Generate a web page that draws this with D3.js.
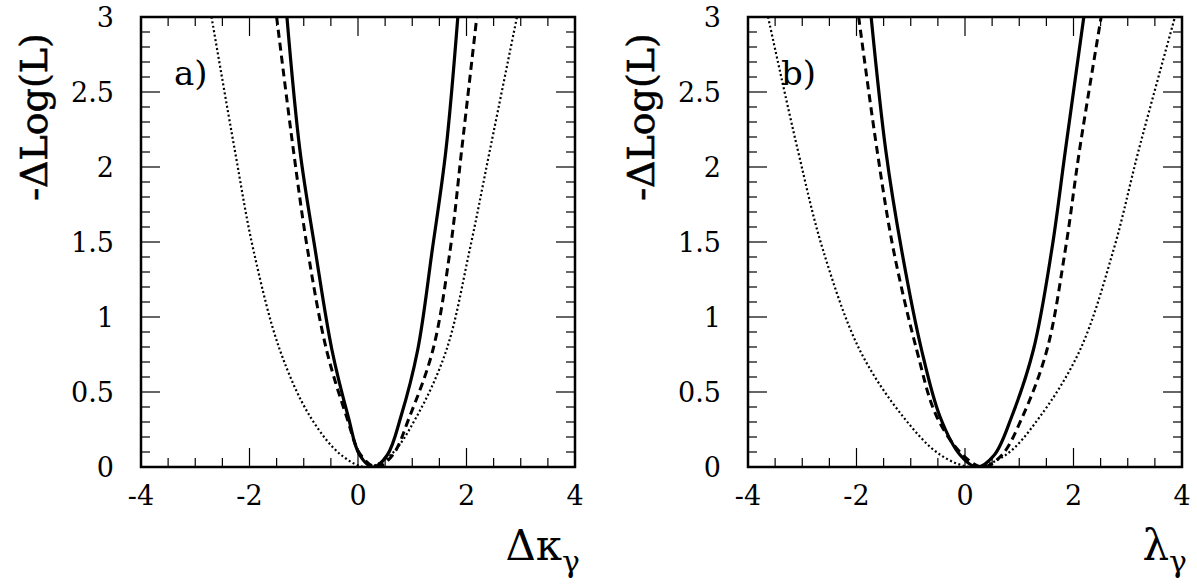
<!DOCTYPE html><html><head><meta charset="utf-8"><script src="https://cdn.jsdelivr.net/npm/d3@7"></script>
<style>body{margin:0;background:#fff}</style></head><body><svg id="c" width="1197" height="584"></svg>
<script>
const yLevels=[3,2.11,1.45,0.78,0.335,0.08];
// For each curve: left-branch x at yLevels, x of the minimum, right-branch x at reversed yLevels
const aSolidL=[-1.31,-1.07,-0.79,-0.48,-0.18,0.03], aSolidMin=0.28, aSolidR=[0.54,0.79,1.10,1.37,1.62,1.84];
const aDashL=[-1.50,-1.19,-0.93,-0.58,-0.21,0.05], aDashMin=0.34, aDashR=[0.64,0.95,1.38,1.70,1.91,2.19];
const aDotL=[-2.70,-2.27,-1.93,-1.44,-0.88,-0.31], aDotMin=0.15, aDotR=[0.60,1.08,1.63,2.06,2.43,2.93];
const bSolidL=[-1.73,-1.46,-1.17,-0.80,-0.46,-0.09], bSolidMin=0.22, bSolidR=[0.54,0.86,1.26,1.60,1.85,2.19];
const bDashL=[-1.96,-1.62,-1.32,-0.89,-0.52,-0.04], bDashMin=0.33, bDashR=[0.68,1.06,1.51,1.85,2.11,2.51];
const bDotL=[-3.63,-3.08,-2.62,-1.94,-1.14,-0.45], bDotMin=0.15, bDotR=[0.75,1.38,2.12,2.74,3.20,3.87];
const xTicks=[-4,-2,0,2,4], yTicks=[0,0.5,1,1.5,2,2.5,3];
const FONT="DejaVu Serif";
const svg=d3.select("#c");
function pts(L,m,R){const n=yLevels.length;const a=L.map((x,i)=>[x,yLevels[i]]);a.push([m,0]);R.forEach((x,i)=>a.push([x,yLevels[n-1-i]]));return a;}
function panel(x0,label,xt,curves){
 const W=434,H=450,top=17;
 const x=d3.scaleLinear().domain([-4,4]).range([x0,x0+W]);
 const y=d3.scaleLinear().domain([0,3]).range([top+H,top]);
 const g=svg.append("g").style("font-family",FONT);
 const id="clip"+label[0];
 svg.append("clipPath").attr("id",id).append("rect").attr("x",x0).attr("y",top).attr("width",W).attr("height",H);
 const minorX=d3.range(-4,4.01,0.5), minorY=d3.range(0,3.001,0.1);
 minorX.forEach(v=>{const L=Math.abs(v%2)<1e-6?19:9;
  g.append("line").attr("x1",x(v)).attr("x2",x(v)).attr("y1",top+H).attr("y2",top+H-L).attr("stroke","#000").attr("stroke-width",1.2);
  g.append("line").attr("x1",x(v)).attr("x2",x(v)).attr("y1",top).attr("y2",top+L).attr("stroke","#000").attr("stroke-width",1.2);});
 minorY.forEach((v,i)=>{const L=i%5==0?19:9;
  g.append("line").attr("x1",x0).attr("x2",x0+L).attr("y1",y(v)).attr("y2",y(v)).attr("stroke","#000").attr("stroke-width",1.2);
  g.append("line").attr("x1",x0+W-L).attr("x2",x0+W).attr("y1",y(v)).attr("y2",y(v)).attr("stroke","#000").attr("stroke-width",1.2);});
 g.append("rect").attr("x",x0).attr("y",top).attr("width",W).attr("height",H).attr("fill","none").attr("stroke","#000").attr("stroke-width",2.5);
 xTicks.forEach(v=>g.append("text").attr("x",x(v)).attr("y",505).attr("text-anchor","middle").attr("font-size",27).text(v));
 yTicks.forEach(v=>g.append("text").attr("x",x0-27).attr("y",y(v)+10).attr("text-anchor","end").attr("font-size",27).text(v));
 g.append("text").attr("transform",`translate(${x0-94},${top+100}) rotate(-90)`).attr("text-anchor","middle").attr("font-size",38).attr("stroke","#000").attr("stroke-width",0.6).text("-ΔLog(L)");
 const t=g.append("text").attr("x",x0+W+5).attr("y",560).attr("text-anchor","end").attr("font-size",42);
 t.append("tspan").text(xt);t.append("tspan").attr("font-size",30).attr("dy",12).text("γ");
 g.append("text").attr("x",x0+33).attr("y",85).attr("font-size",34).text(label);
 const line=d3.line().x(d=>x(d[0])).y(d=>y(d[1])).curve(d3.curveCatmullRom.alpha(0.5));
 const styles=[{w:3.2,d:null},{w:3,d:"8,5"},{w:2.2,d:"2,2.5"}];
 curves.forEach((c,i)=>g.append("path").attr("d",line(c)).attr("clip-path",`url(#${id})`).attr("fill","none").attr("stroke","#000").attr("stroke-width",styles[i].w).attr("stroke-dasharray",styles[i].d));
}
panel(141,"a)","Δκ",[pts(aSolidL,aSolidMin,aSolidR),pts(aDashL,aDashMin,aDashR),pts(aDotL,aDotMin,aDotR)]);
panel(748,"b)","λ",[pts(bSolidL,bSolidMin,bSolidR),pts(bDashL,bDashMin,bDashR),pts(bDotL,bDotMin,bDotR)]);
</script></body></html>
